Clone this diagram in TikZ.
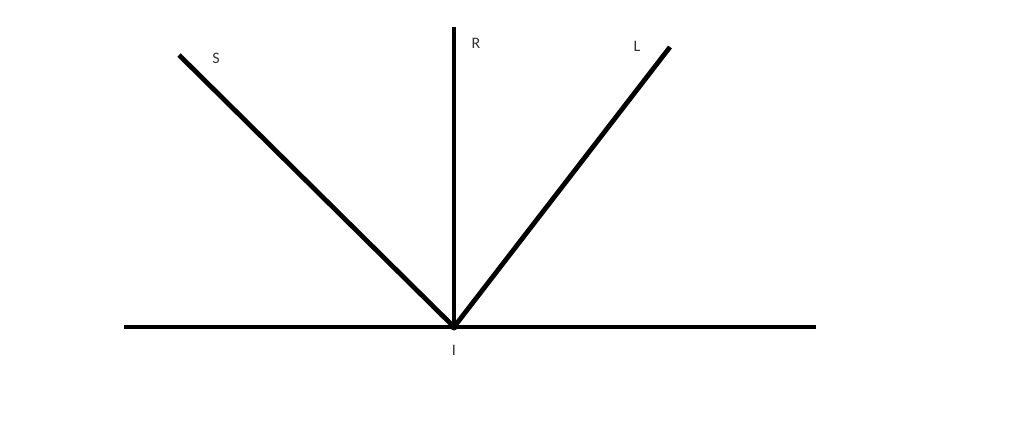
\documentclass[tikz,border=0pt]{standalone}
\usepackage{fontspec}
\setmainfont{Carlito}
\begin{document}
\begin{tikzpicture}[x=1pt, y=-1pt, line width=4.8pt]
    \useasboundingbox (0, 0) rectangle (1024, 429);
    \tikzset{lbl/.style={font=\fontsize{16}{16}\selectfont, inner sep=0pt, text=black!80}}
    \coordinate (I) at (454, 327);
    \coordinate (Lft) at (124, 327);
    \coordinate (Rgt) at (816, 327);
    \coordinate (Rtop) at (454, 27);
    \coordinate (Stop) at (179, 55);
    \coordinate (Ltop) at (670, 47);
    \draw (Lft) -- (Rgt);
    \draw (I) -- (Rtop);
    \draw (I) -- (Stop);
    \draw (I) -- (Ltop);
    \fill (I) circle (3.5);
    \node[lbl] (labS) at (216, 58) {S};
    \node[lbl] (labR) at (476, 43) {R};
    \node[lbl] (labL) at (637, 46) {L};
    \node[lbl] (labI) at (454, 350) {I};
\end{tikzpicture}
\end{document}
